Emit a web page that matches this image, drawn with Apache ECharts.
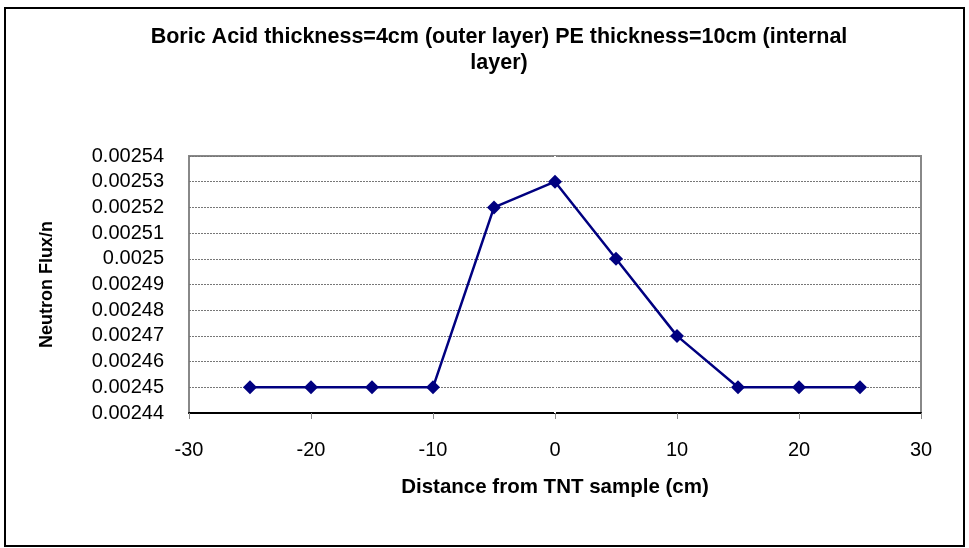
<!DOCTYPE html>
<html><head><meta charset="utf-8">
<script src="https://cdn.jsdelivr.net/npm/echarts@6/dist/echarts.min.js"></script>
<style>html,body{margin:0;padding:0;background:#fff}#c{width:969px;height:548px}</style>
</head><body><div id="c"></div>
<script>
var titleText = 'Boric Acid thickness=4cm (outer layer) PE thickness=10cm (internal\nlayer)';
var xName = 'Distance from TNT sample (cm)';
var yName = 'Neutron Flux/n';
var distances = [-25, -20, -15, -10, -5, 0, 5, 10, 15, 20, 25];
var flux = [0.00245, 0.00245, 0.00245, 0.00245, 0.00252, 0.00253, 0.0025, 0.00247, 0.00245, 0.00245, 0.00245];

var chart = echarts.init(document.getElementById('c'));
var F = 'Liberation Sans, Arial, sans-serif';
chart.setOption({
  animation: false,
  backgroundColor: '#fff',
  graphic: [{type: 'rect', shape: {x: 5, y: 8, width: 959, height: 538}, style: {fill: 'none', stroke: '#000', lineWidth: 2}, silent: true}],
  title: {text: titleText, left: 494, top: 19, textAlign: 'center',
    textStyle: {fontFamily: F, fontWeight: 'bold', fontSize: 21.5, color: '#000', lineHeight: 26}},
  grid: {left: 189, right: 48, top: 156, bottom: 135, show: true, borderColor: '#888', borderWidth: 2, backgroundColor: '#fff'},
  xAxis: {type: 'value', min: -30, max: 30, interval: 10,
    name: xName, nameLocation: 'middle', nameGap: 64,
    nameTextStyle: {fontFamily: F, fontWeight: 'bold', fontSize: 20.5, color: '#000'},
    axisLine: {show: true, lineStyle: {color: '#000', width: 2}},
    axisTick: {show: true, inside: false, length: 6, lineStyle: {color: '#888', width: 1}},
    axisLabel: {fontFamily: F, fontSize: 20, color: '#000', margin: 27},
    splitLine: {show: false}},
  yAxis: {type: 'value', min: 0.00244, max: 0.00254, interval: 0.00001,
    name: yName, nameLocation: 'middle', nameGap: 133, nameRotate: 90,
    nameTextStyle: {fontFamily: F, fontWeight: 'bold', fontSize: 18, color: '#000'},
    axisLine: {show: true, lineStyle: {color: '#888', width: 2}},
    axisTick: {show: false},
    axisLabel: {fontFamily: F, fontSize: 20, color: '#000', margin: 25,
      formatter: function (v) { return String(Number(v.toFixed(5))); }},
    splitLine: {show: true, lineStyle: {color: '#777', type: [2, 1], width: 1}}},
  series: [{type: 'line', data: distances.map(function (d, i) { return [d, flux[i]]; }),
    symbol: 'diamond', symbolSize: 14,
    lineStyle: {color: '#000080', width: 2.5},
    itemStyle: {color: '#000080'},
    markLine: {silent: true, symbol: 'none', label: {show: false},
      lineStyle: {color: '#fff', width: 2, type: 'solid'}, data: [{xAxis: 0}], z: 1}}]
});
</script></body></html>
